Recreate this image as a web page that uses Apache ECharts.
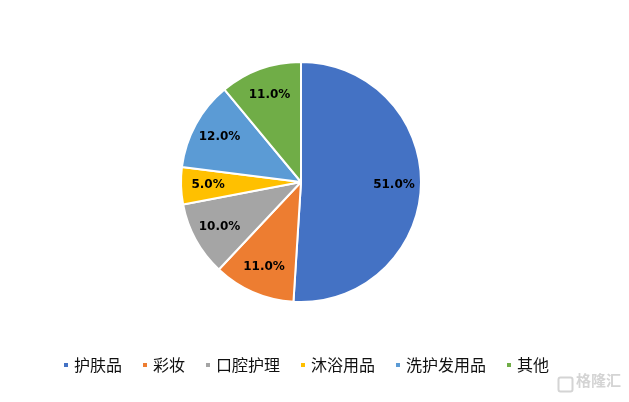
<!DOCTYPE html>
<html><head><meta charset="utf-8">
<script src="https://cdn.jsdelivr.net/npm/echarts@6/dist/echarts.min.js"></script>
<style>html,body{margin:0;padding:0;background:#fff}#c{width:629px;height:402px}</style>
</head><body><div id="c"></div>
<script>
const categories = ['护肤品','彩妆','口腔护理','沐浴用品','洗护发用品','其他'];
const shares = [51.0, 11.0, 10.0, 5.0, 12.0, 11.0];
const colors = ['#4472C4','#ED7D31','#A5A5A5','#FFC000','#5B9BD5','#70AD47'];

const chart = echarts.init(document.getElementById('c'), null, {renderer:'canvas'});
const data = categories.map((n,i)=>({name:n, value:shares[i]}));
chart.setOption({
  animation:false,
  color: colors,
  legend:{
    top: 352, left: 57,
    itemWidth:6, itemHeight:6, itemGap:19, icon:'rect',
    textStyle:{fontFamily:'Noto Sans CJK SC', fontSize:16, color:'#111'},
    data: categories
  },
  graphic:[{type:'text', left:576, top:373, style:{text:'格隆汇', fill:'#d4d4d4', font:'bold 15px "Noto Sans CJK SC"'}},
           {type:'rect', left:556, top:375, shape:{width:14, height:14, r:2}, style:{fill:'none', stroke:'#d4d4d4', lineWidth:2}}],
  series:[
    {type:'pie', center:[301,182], radius:[0,120], startAngle:90, clockwise:true,
     itemStyle:{borderColor:'#fff', borderWidth:2},
     label:{show:false}, labelLine:{show:false}, data:data},
    {type:'pie', center:[301,182], radius:[0,180], startAngle:90, clockwise:true,
     silent:true, legendHoverLink:false,
     itemStyle:{color:'rgba(0,0,0,0)', borderWidth:0},
     label:{show:true, position:'inside', formatter:p=>p.value.toFixed(1)+'%',
       fontFamily:'DejaVu Sans', fontWeight:'bold', fontSize:12, color:'#000'},
     labelLine:{show:false},
     data: categories.map((n,i)=>({name:n+' ', value:shares[i]}))}
  ]
});
</script></body></html>
